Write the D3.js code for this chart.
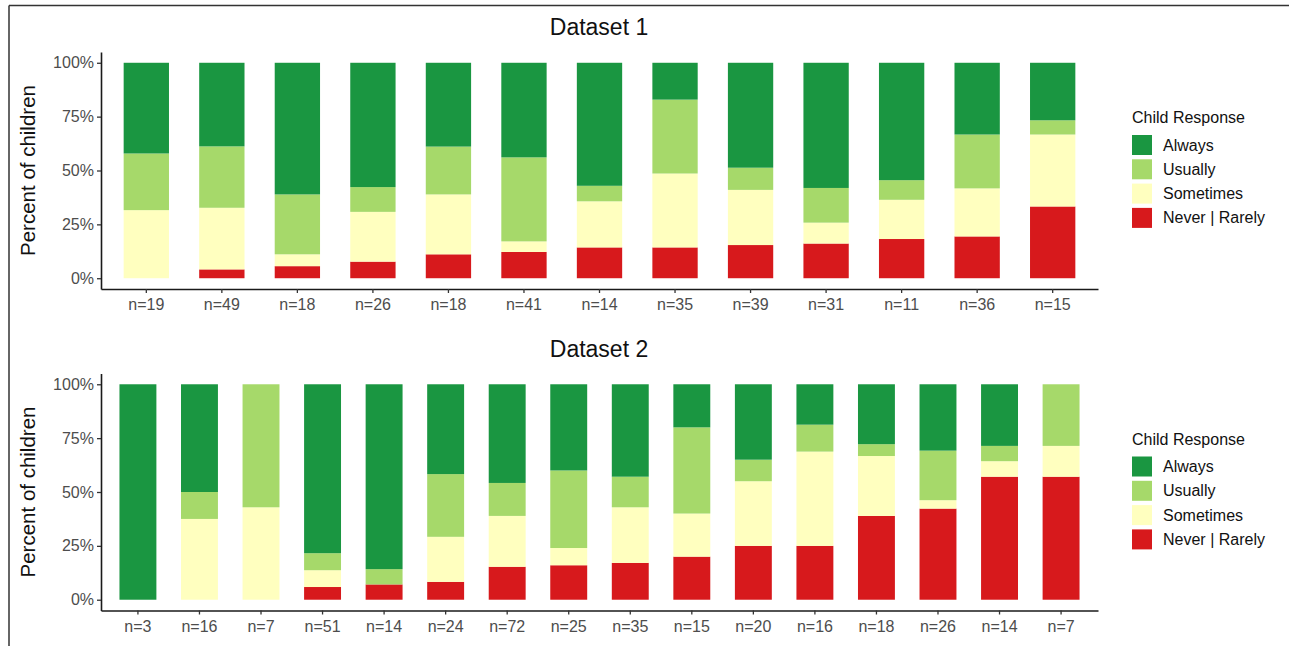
<!DOCTYPE html>
<html>
<head>
<meta charset="utf-8">
<script src="https://cdn.jsdelivr.net/npm/d3@7.9.0/dist/d3.min.js"></script>
<style>
  html, body { margin: 0; padding: 0; background: #fff; }
  svg { display: block; font-family: "Liberation Sans", Arial, sans-serif; }
</style>
</head>
<body>
<svg id="chart"></svg>
<script>
// response categories, bottom of the stack first
const responseKeys = ["never", "sometimes", "usually", "always"];
const legendLabels = ["Always", "Usually", "Sometimes", "Never | Rarely"];
const legendKeys = ["always", "usually", "sometimes", "never"];
const responseColors = ["#d7191c", "#ffffbf", "#a6d96a", "#1a9641"];

const yTicks = [0, 25, 50, 75, 100];

// Dataset 1 (percent of children)
const ds1Labels    = ["n=19", "n=49", "n=18", "n=26", "n=18", "n=41", "n=14", "n=35", "n=39", "n=31", "n=11", "n=36", "n=15"];
const ds1Never     = [0,    4.1,  5.6,  7.7,  11.1, 12.2, 14.3, 14.3, 15.4, 16.1, 18.2, 19.4, 33.3];
const ds1Sometimes = [31.6, 28.6, 5.5,  23.1, 27.8, 4.9,  21.4, 34.3, 25.6, 9.7,  18.2, 22.3, 33.4];
const ds1Usually   = [26.3, 28.5, 27.8, 11.5, 22.2, 39.0, 7.2,  34.3, 10.3, 16.1, 9.1,  25.0, 6.6];
const ds1Always    = [42.1, 38.8, 61.1, 57.7, 38.9, 43.9, 57.1, 17.1, 48.7, 58.1, 54.5, 33.3, 26.7];

// Dataset 2 (percent of children)
const ds2Labels    = ["n=3", "n=16", "n=7", "n=51", "n=14", "n=24", "n=72", "n=25", "n=35", "n=15", "n=20", "n=16", "n=18", "n=26", "n=14", "n=7"];
const ds2Never     = [0,   0,    0,    5.9,  7.1,  8.3,  15.3, 16,  17.1, 20,  25,  25,    38.9, 42.3, 57.1, 57.1];
const ds2Sometimes = [0,   37.5, 42.9, 7.8,  0,    20.9, 23.6, 8,   25.8, 20,  30,  43.75, 27.8, 3.9,  7.2,  14.3];
const ds2Usually   = [0,   12.5, 57.1, 7.9,  7.1,  29.1, 15.3, 36,  14.2, 40,  10,  12.5,  5.5,  23.0, 7.1,  28.6];
const ds2Always    = [100, 50,   0,    78.4, 85.8, 41.7, 45.8, 40,  42.9, 20,  35,  18.75, 27.8, 30.8, 28.6, 0];

const width = 1289;
const height = 646;
const panelShift = 321.5;

const color = d3.scaleOrdinal().domain(responseKeys).range(responseColors);

const svg = d3.select('#chart')
  .attr('width', width)
  .attr('height', height);

// image frame (top and left edge only)
svg.append('line')
  .attr('x1', 9).attr('x2', width).attr('y1', 5.5).attr('y2', 5.5)
  .attr('stroke', '#333').attr('stroke-width', 1.5);
svg.append('line')
  .attr('x1', 9).attr('x2', 9).attr('y1', 5.5).attr('y2', height)
  .attr('stroke', '#333').attr('stroke-width', 1.5);

function rowsFrom(labels, never, sometimes, usually, always) {
  return labels.map((lab, i) => ({
    idx: i, label: lab,
    never: never[i], sometimes: sometimes[i], usually: usually[i], always: always[i]
  }));
}

function drawPanel(title, rows, top) {
  const g = svg.append('g').attr('transform', `translate(0,${top})`);

  const x = d3.scaleBand()
    .domain(rows.map(d => d.idx))
    .range([101, 1098])
    .paddingInner(0.4)
    .paddingOuter(0.3);

  const y = d3.scaleLinear()
    .domain([-5, 105])
    .range([289, 52]);

  const series = d3.stack().keys(responseKeys)(rows);

  g.append('g')
    .selectAll('g')
    .data(series)
    .join('g')
    .attr('fill', d => color(d.key))
    .selectAll('rect')
    .data(d => d)
    .join('rect')
    .attr('x', d => x(d.data.idx))
    .attr('width', x.bandwidth())
    .attr('y', d => y(d[1]))
    .attr('height', d => Math.max(0, y(d[0]) - y(d[1])));

  // axes
  const yAxis = g.append('g')
    .attr('transform', 'translate(101,0)')
    .call(d3.axisLeft(y).tickValues(yTicks).tickFormat(d => d + '%').tickSizeInner(4).tickSizeOuter(0).tickPadding(3));

  const xAxis = g.append('g')
    .attr('transform', 'translate(0,289)')
    .call(d3.axisBottom(x).tickFormat(i => rows[i].label).tickSizeInner(4).tickSizeOuter(0).tickPadding(6));

  [yAxis, xAxis].forEach(ax => {
    ax.select('.domain').attr('stroke', '#1a1a1a').attr('stroke-width', 1.6);
    ax.selectAll('.tick line').attr('stroke', '#333').attr('stroke-width', 1.3);
    ax.selectAll('.tick text')
      .attr('fill', '#4d4d4d')
      .style('font-size', '16px')
      .style('font-family', '"Liberation Sans", Arial, sans-serif');
  });

  g.append('text')
    .attr('x', 599)
    .attr('y', 35)
    .attr('text-anchor', 'middle')
    .attr('fill', '#111')
    .style('font-size', '23px')
    .text(title);

  g.append('text')
    .attr('transform', `translate(35,${(y(0) + y(100)) / 2}) rotate(-90)`)
    .attr('text-anchor', 'middle')
    .attr('fill', '#111')
    .style('font-size', '20.5px')
    .text('Percent of children');

  // legend
  const lg = g.append('g').attr('transform', 'translate(1132,0)');
  lg.append('text')
    .attr('x', 0).attr('y', 123)
    .attr('fill', '#111')
    .style('font-size', '16px')
    .text('Child Response');

  const item = lg.selectAll('g.item')
    .data(legendKeys)
    .join('g')
    .attr('class', 'item')
    .attr('transform', (d, i) => `translate(0,${135 + i * 24.3})`);

  item.append('rect')
    .attr('width', 20).attr('height', 20)
    .attr('fill', d => color(d));

  item.append('text')
    .attr('x', 31).attr('y', 10)
    .attr('dy', '0.35em')
    .attr('fill', '#111')
    .style('font-size', '16px')
    .text((d, i) => legendLabels[i]);
}

drawPanel('Dataset 1', rowsFrom(ds1Labels, ds1Never, ds1Sometimes, ds1Usually, ds1Always), 0);
drawPanel('Dataset 2', rowsFrom(ds2Labels, ds2Never, ds2Sometimes, ds2Usually, ds2Always), panelShift);
</script>
</body>
</html>
